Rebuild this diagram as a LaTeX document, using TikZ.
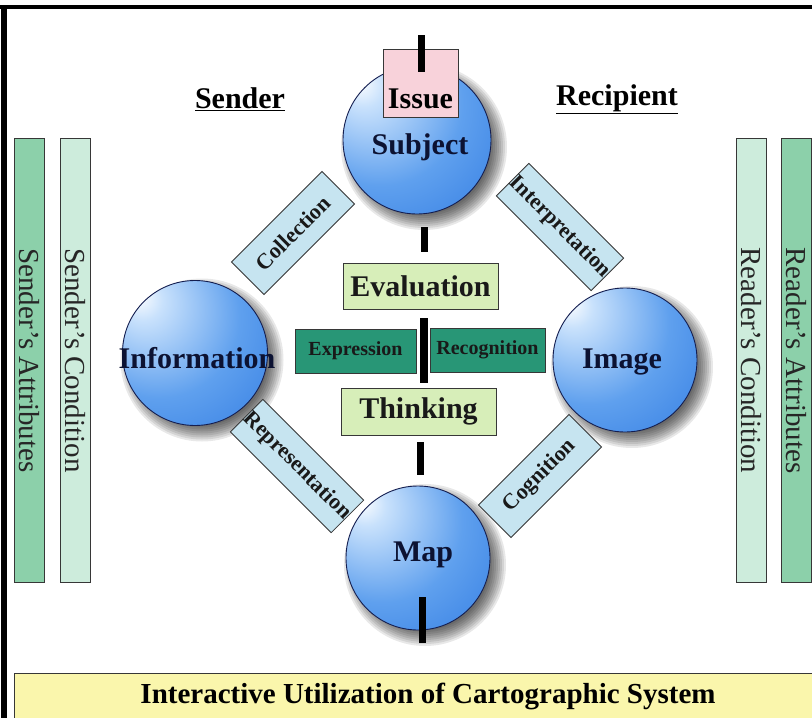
\documentclass[tikz,border=0pt]{standalone}
\usepackage{fontspec}
\setmainfont{Liberation Serif}
\definecolor{sphA}{RGB}{200,225,252}
\definecolor{sphB}{RGB}{95,160,238}
\definecolor{sphC}{RGB}{45,120,225}
\definecolor{sphD}{RGB}{22,75,178}
\definecolor{sphline}{RGB}{20,30,80}
\definecolor{sphtext}{RGB}{12,18,50}
\definecolor{attrfill}{RGB}{140,208,170}
\definecolor{condfill}{RGB}{205,236,220}
\definecolor{evalfill}{RGB}{215,238,185}
\definecolor{expfill}{RGB}{40,150,118}
\definecolor{diagfill}{RGB}{198,228,240}
\definecolor{issuefill}{RGB}{248,210,218}
\definecolor{yellowfill}{RGB}{250,246,172}
\definecolor{boxline}{RGB}{55,55,55}
\pgfdeclareradialshading{sphereshade}{\pgfpoint{-20bp}{20bp}}{color(0bp)=(white); color(7bp)=(sphA); color(28bp)=(sphB); color(52bp)=(sphC); color(75bp)=(sphD)}
\newcommand\ballshadow[3]{\foreach \k in {0,...,8}{\fill[black, opacity=0.09] (#1+7,#2+7) circle ({#3+9-2*\k});}}
\begin{document}
\begin{tikzpicture}[x=1pt,y=-1pt,
  ball/.style={circle, draw=sphline, line width=0.9pt, shading=sphereshade, inner sep=0pt},
  balltext/.style={font=\fontsize{30}{30}\selectfont\bfseries, text=sphtext, inner sep=0pt},
  sidebox/.style={draw=boxline, line width=0.8pt, minimum width=444pt, minimum height=30pt, inner sep=0pt,
    rotate=-90, font=\fontsize{29}{29}\selectfont, text=black!85},
  diagbox/.style={draw=boxline, line width=0.8pt, fill=diagfill, minimum width=128pt, minimum height=46pt,
    inner sep=0pt, font=\fontsize{22}{22}\selectfont\bfseries, text=black!90},
  greenbox/.style={draw=boxline, line width=0.8pt, fill=evalfill, inner sep=0pt,
    font=\fontsize{30}{30}\selectfont\bfseries, text=black!90},
  tealbox/.style={draw=boxline, line width=0.8pt, fill=expfill, inner sep=0pt,
    minimum height=44pt, font=\fontsize{20}{20}\selectfont\bfseries, text=black!90},
  headlabel/.style={font=\fontsize{30}{30}\selectfont\bfseries, inner sep=0pt},
  bar/.style={line width=7pt, black}
]
\useasboundingbox (0,0) rectangle (812,718);
\clip (0,0) rectangle (812,718);
\fill[white] (0,0) rectangle (812,718);
% frame
\fill[black] (0,5) rectangle (812,9);
\fill[black] (1,5) rectangle (7,718);

% side boxes
\node[sidebox, fill=attrfill] (sattr) at (29,360.5) {Sender's Attributes};
\node[sidebox, fill=condfill] (scond) at (75,360.5) {Sender's Condition};
\node[sidebox, fill=condfill] (rcond) at (751.5,360.5) {Reader's Condition};
\node[sidebox, fill=attrfill] (rattr) at (796.5,360.5) {Reader's Attributes};

% headings
\node[headlabel] (sender) at (240,99) {\underline{Sender}};
\node[headlabel] (recip) at (617,99) {\underline{Recipient}};

% sphere shadows
\ballshadow{417}{140}{74}
\ballshadow{195}{353}{72.5}
\ballshadow{625}{360}{72}
\ballshadow{418}{558}{72}

% spheres
\node[ball, minimum size=148pt] (subject) at (417,140) {};
\node[ball, minimum size=145pt] (info) at (195,353) {};
\node[ball, minimum size=144pt] (image) at (625,360) {};
\node[ball, minimum size=144pt] (map) at (418,558) {};
\node[balltext] (subjectt) at (420,147) {Subject};
\node[balltext] (infot) at (197,358) {Information};
\node[balltext] (imaget) at (622,362) {Image};
\node[balltext] (mapt) at (423,555) {Map};

% issue box
\node[draw=boxline, line width=0.8pt, fill=issuefill, minimum width=75pt, inner sep=0pt,
  text height=59pt, text depth=9pt, font=\fontsize{30}{30}\selectfont\bfseries] (issue) at (420.5,83) {Issue};

% diagonal boxes
\node[diagbox, rotate=45] (coll) at (293,233) {Collection};
\node[diagbox, rotate=-45] (interp) at (560,227) {Interpretation};
\node[diagbox, rotate=-45] (repr) at (297,466) {Representation};
\node[diagbox, rotate=45] (cogn) at (540,476) {Cognition};

% central boxes
\node[greenbox, minimum width=155pt, minimum height=46pt] (eval) at (420.5,286) {Evaluation};
\node[greenbox, minimum width=155pt, minimum height=47pt] (think) at (418.5,411.5) {Thinking};
\node[tealbox, minimum width=121pt] (expr) at (355.5,351) {Expression};
\node[tealbox, minimum width=115pt] (recog) at (487.5,350) {Recognition};

% bars
\coordinate (t1) at (421,35);
\coordinate (t2) at (421,72);
\draw[bar] (t1) -- (t2);
\coordinate (s1) at (424,227);
\coordinate (s2) at (424,252);
\draw[bar] (s1) -- (s2);
\coordinate (c1) at (424,318);
\coordinate (c2) at (424,383);
\draw[bar, line width=8pt] (c1) -- (c2);
\coordinate (k1) at (420.5,442);
\coordinate (k2) at (420.5,475);
\draw[bar] (k1) -- (k2);
\coordinate (m1) at (422,597);
\coordinate (m2) at (422,643);
\draw[bar] (m1) -- (m2);

% bottom band
\node[draw=boxline, line width=1pt, fill=yellowfill, minimum width=828pt, minimum height=46pt, inner sep=0pt,
  font=\fontsize{29}{29}\selectfont\bfseries] (bottom) at (428,696) {Interactive Utilization of Cartographic System};
\end{tikzpicture}
\end{document}
